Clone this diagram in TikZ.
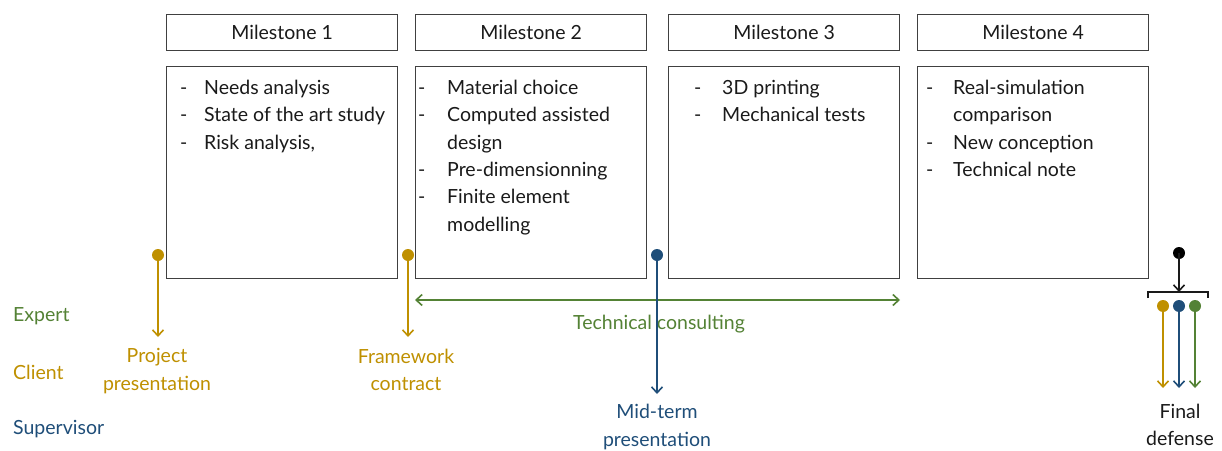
\documentclass[tikz,border=0pt]{standalone}
\usepackage{fontspec}
\setmainfont{Lato}
\usetikzlibrary{arrows.meta}
\definecolor{cgold}{HTML}{BF9000}
\definecolor{cgreen}{HTML}{548235}
\definecolor{cblue}{HTML}{1F4E79}
\definecolor{cgray}{HTML}{404040}
\definecolor{ctext}{HTML}{1A1A1A}
\newcommand\bli[2]{\makebox[#1][l]{-}#2}
\begin{document}
\begin{tikzpicture}[x=1pt,y=-1pt,
  every node/.style={font=\fontsize{19.5}{27.3}\selectfont, inner sep=0pt, text=ctext},
  hdr/.style={draw=cgray, line width=1.2pt, minimum width=231pt, minimum height=36pt, anchor=north west},
  cbox/.style={draw=cgray, line width=1.2pt, minimum width=231pt, minimum height=212pt, anchor=north west},
  items/.style={anchor=north west, align=left},
  dot/.style={circle, fill=#1, minimum size=12pt, inner sep=0pt},
  arr/.style={draw=#1, line width=1.6pt, -{Straight Barb[length=6pt,width=11pt,line width=1.6pt]}},
  lbl/.style={text=#1, align=center},
]
\useasboundingbox (0,0) rectangle (1222,450);
\fill[white] (0,0) rectangle (1222,450);

% headers
\node[hdr] (h1) at (166,14) {Milestone 1};
\node[hdr] (h2) at (415,14) {Milestone 2};
\node[hdr] (h3) at (668,14) {Milestone 3};
\node[hdr] (h4) at (917,14) {Milestone 4};

% content boxes
\node[cbox] (c1) at (166,66) {};
\node[cbox] (c2) at (415,66) {};
\node[cbox] (c3) at (668,66) {};
\node[cbox] (c4) at (917,66) {};

\node[items] (t1) at (180,80) {\bli{24pt}{Needs analysis}\\\bli{24pt}{State of the art study}\\\bli{24pt}{Risk analysis,}};
\node[items] (t2) at (418,80) {\bli{29pt}{Material choice}\\\bli{29pt}{Computed assisted}\\\hspace*{29pt}design\\\bli{29pt}{Pre-dimensionning}\\\bli{29pt}{Finite element}\\\hspace*{29pt}modelling};
\node[items] (t3) at (694,80) {\bli{28pt}{3D printing}\\\bli{28pt}{Mechanical tests}};
\node[items] (t4) at (926,80) {\bli{27pt}{Real-simulation}\\\hspace*{27pt}comparison\\\bli{27pt}{New conception}\\\bli{27pt}{Technical note}};

% role labels
\node[anchor=west, text=cgreen] (rexp) at (13,316) {Expert};
\node[anchor=west, text=cgold] (rcli) at (13,372) {Client};
\node[anchor=west, text=cblue] (rsup) at (13,429) {Supervisor};

% project presentation
\node[dot=cgold] (d1) at (158,255) {};
\coordinate (e1) at (158,337);
\draw[arr=cgold] (d1.center) -- (e1);
\node[lbl=cgold] (l1) at (157,371) {Project\\presentation};

% framework contract
\node[dot=cgold] (d2) at (408,255) {};
\coordinate (e2) at (408,337);
\draw[arr=cgold] (d2.center) -- (e2);
\node[lbl=cgold] (l2) at (406,370) {Framework\\contract};

% technical consulting
\coordinate (g1) at (415,300);
\coordinate (g2) at (900,300);
\draw[draw=cgreen, line width=1.6pt, {Straight Barb[length=6pt,width=11pt,line width=1.6pt]}-{Straight Barb[length=6pt,width=11pt,line width=1.6pt]}] (g1) -- (g2);
\node[text=cgreen] (tc) at (659,324) {Technical consulting};

% mid-term
\node[dot=cblue] (d3) at (657,255) {};
\coordinate (e3) at (657,394);
\draw[arr=cblue] (d3.center) -- (e3);
\node[lbl=cblue] (l3) at (657,427) {Mid-term\\presentation};

% final defense
\node[dot=black] (d4) at (1179,253) {};
\coordinate (br) at (1179,292);
\draw[arr=ctext] (d4.center) -- (br);
\draw[ctext, line width=1.6pt] (1148,298) -- (1148,292) -- (1208,292) -- (1208,298);
\node[dot=cgold] (f1) at (1163,306) {};
\node[dot=cblue] (f2) at (1179,306) {};
\node[dot=cgreen] (f3) at (1195,306) {};
\coordinate (fe1) at (1163,388);
\coordinate (fe2) at (1179,388);
\coordinate (fe3) at (1195,388);
\draw[arr=cgold] (f1.center) -- (fe1);
\draw[arr=cblue] (f2.center) -- (fe2);
\draw[arr=cgreen] (f3.center) -- (fe3);
\node[lbl=ctext] (l4) at (1180,425) {Final\\defense};
\end{tikzpicture}
\end{document}
